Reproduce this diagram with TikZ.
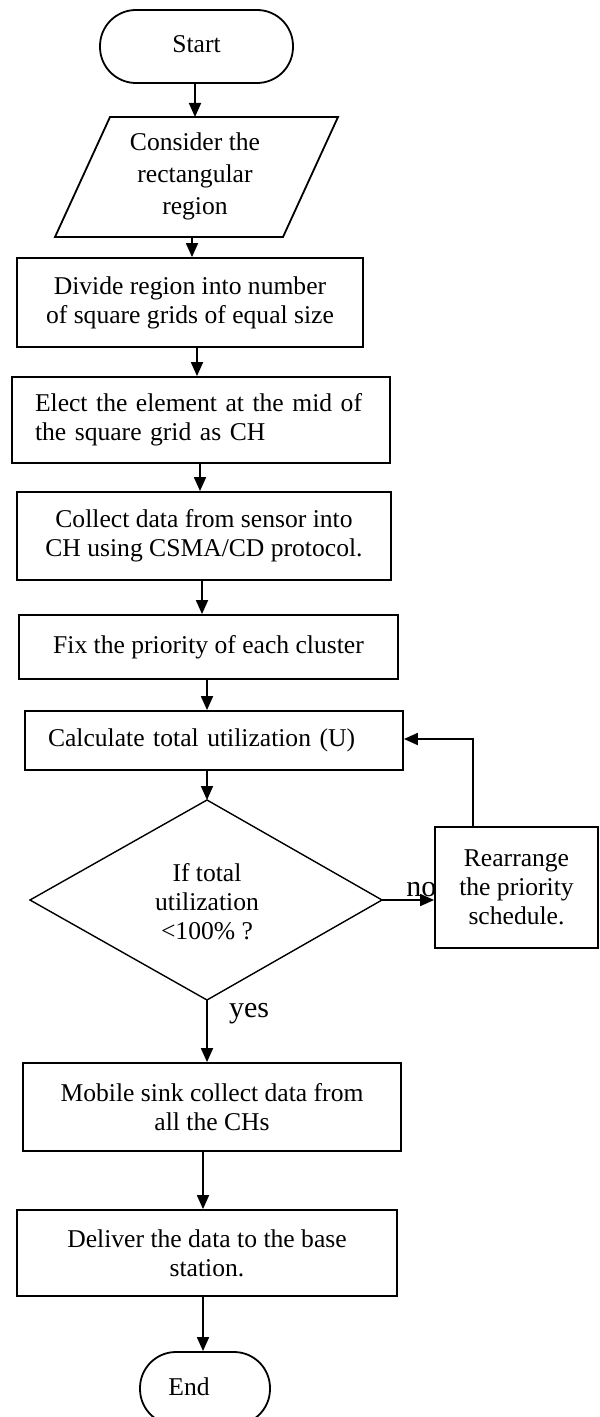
\documentclass[tikz,border=0pt]{standalone}
\usepackage{fontspec}
\setmainfont{Liberation Serif}
\usetikzlibrary{arrows.meta}
\begin{document}
\begin{tikzpicture}[x=0.5pt,y=-0.5pt,
  box/.style={draw, line width=0.9pt, inner sep=0pt, align=center, fill=white,
              font=\fontsize{12.8}{14.5}\selectfont},
  term/.style={box, rounded corners=18pt},
  leftbox/.style={box, align=left, inner xsep=11.5pt, text width=166pt},
  arr/.style={line width=0.9pt, -{Triangle[length=7pt,width=6pt]}},
  lbl/.style={font=\fontsize{15}{18}\selectfont, inner sep=0pt}]
\clip (0,0) rectangle (599,1417);
\fill[white] (0,0) rectangle (599,1417);

% x positions of the vertical connectors
\coordinate (a1) at (195,0);
\coordinate (a2) at (192,0);
\coordinate (a3) at (197,0);
\coordinate (a4) at (200,0);
\coordinate (a5) at (202,0);
\coordinate (a6) at (207,0);
\coordinate (a9) at (203,0);

% nodes
\node[term, minimum width=96.5pt, minimum height=36.5pt] (start) at (196.5,46.5) {\raisebox{2pt}{Start}};

\coordinate (p1) at (110,117);
\coordinate (p2) at (338,117);
\coordinate (p3) at (283,237);
\coordinate (p4) at (55,237);
\draw[line width=0.9pt] (p1) -- (p2) -- (p3) -- (p4) -- cycle;
\node[box, draw=none, fill=none, font=\fontsize{12.8}{16}\selectfont] (para) at (195,176) {Consider the\\rectangular\\region};

\node[box, minimum width=173pt, minimum height=44.5pt] (div) at (190,302.5) {Divide region into number\\of square grids of equal size};
\node[leftbox, minimum width=189pt, minimum height=43pt] (elect) at (201,420) {\mbox{Elect the element at the mid of}\\\mbox{the square grid as CH}};
\node[box, minimum width=187pt, minimum height=44pt] (collect) at (204,536) {Collect data from sensor into\\CH using CSMA/CD protocol.};
\node[box, minimum width=189.5pt, minimum height=32pt] (fix) at (208.5,647) {\raisebox{2pt}{Fix the priority of each cluster}};
\node[leftbox, minimum width=189pt, minimum height=29.5pt] (calc) at (214,740.5) {\mbox{Calculate total utilization (U)}};

\coordinate (dt) at (207,800);
\coordinate (dl) at (30,900);
\coordinate (dr) at (382,900);
\coordinate (db) at (207,1000);
\draw[line width=0.7pt] (dt) -- (dr) -- (db) -- (dl) -- cycle;
\node[box, draw=none, fill=none] (dec) at (207,902) {If total\\utilization\\<100\% ?};

\node[lbl, anchor=base west] (no) at (406,896) {no};
\node[box, minimum width=81.5pt, minimum height=60.5pt] (rearr) at (516.5,887.5) {Rearrange\\the priority\\schedule.};
\node[lbl] (yes) at (249,1014) {yes};

\node[box, minimum width=189pt, minimum height=44pt] (mobile) at (212,1107) {Mobile sink collect data from\\all the CHs};
\node[box, minimum width=190pt, minimum height=43pt] (deliver) at (207,1253) {Deliver the data to the base\\station.};
\node[term, minimum width=65pt, minimum height=36.5pt] (end) at (205,1388.5) {\hspace*{-16pt}\raisebox{2pt}{End}};

% connectors
\draw[arr] (start.south -| a1) -- (p1 -| a1);
\draw[arr] (p4 -| a2) -- (div.north -| a2);
\draw[arr] (div.south -| a3) -- (elect.north -| a3);
\draw[arr] (elect.south -| a4) -- (collect.north -| a4);
\draw[arr] (collect.south -| a5) -- (fix.north -| a5);
\draw[arr] (fix.south -| a6) -- (calc.north -| a6);
\draw[arr] (calc.south -| a6) -- (dt);
\draw[arr] (db) -- (mobile.north -| a6);
\draw[arr] (mobile.south -| a9) -- (deliver.north -| a9);
\draw[arr] (deliver.south -| a9) -- (end.north -| a9);
\draw[arr] (dr) -- (rearr.west |- dr);
\coordinate (fb) at (473,739);
\draw[arr] (rearr.north -| fb) -- (fb) -- (calc.east |- fb);
\end{tikzpicture}
\end{document}
